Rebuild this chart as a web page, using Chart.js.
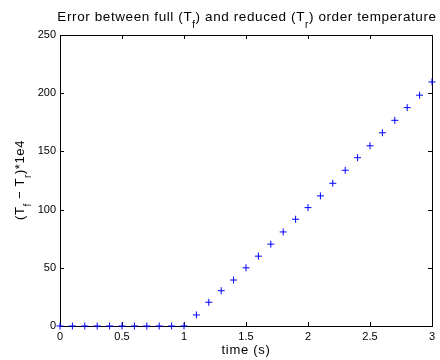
<!DOCTYPE html>
<html>
<head>
<meta charset="utf-8">
<script src="https://cdn.jsdelivr.net/npm/chart.js@4/dist/chart.umd.min.js"></script>
<style>
  html, body { margin: 0; padding: 0; background: #fff; }
  #wrap { width: 440px; height: 360px; position: relative; }
</style>
</head>
<body>
<div id="wrap"><canvas id="plot"></canvas></div>
<script>
// time samples (s) and scaled error values
var times = [0, 0.1, 0.2, 0.3, 0.4, 0.5, 0.6, 0.7, 0.8, 0.9, 1.0,
             1.1, 1.2, 1.3, 1.4, 1.5, 1.6, 1.7, 1.8, 1.9, 2.0,
             2.1, 2.2, 2.3, 2.4, 2.5, 2.6, 2.7, 2.8, 2.9, 3.0];
var errorVals = [0, 0, 0, 0, 0, 0, 0, 0, 0, 0, 0,
                 9.5, 20.4, 30.3, 39.5, 50, 60, 70.3, 80.8, 91.7, 101.7,
                 111.8, 122.6, 133.8, 144.6, 154.8, 166, 176.7, 187.6, 198.3, 209.7];
var xTicks = [0, 0.5, 1, 1.5, 2, 2.5, 3];
var yTicks = [0, 50, 100, 150, 200, 250];

var titleParts = [["Error between full (T", false], ["f", true], [") and reduced (T", false], ["r", true], [") order temperature", false]];
var yLabelParts = [["(T", false], ["f", true], [" \u2212 T", false], ["r", true], [")*1e4", false]];
var xLabel = "time (s)";

var FONT = "Liberation Sans, Arial, Helvetica, sans-serif";

// draws text with simple subscripts, centred on (0,0) of current transform
function drawParts(ctx, parts, size, subSize, subDrop, spacing) {
    ctx.letterSpacing = spacing + "px";
    var total = 0;
    parts.forEach(function(p) {
        ctx.font = (p[1] ? subSize : size) + "px " + FONT;
        total += ctx.measureText(p[0]).width;
    });
    var x = -total / 2;
    ctx.textAlign = "left";
    ctx.textBaseline = "alphabetic";
    parts.forEach(function(p) {
        ctx.font = (p[1] ? subSize : size) + "px " + FONT;
        ctx.fillText(p[0], x, p[1] ? subDrop : 0);
        x += ctx.measureText(p[0]).width;
    });
    ctx.letterSpacing = "0px";
}

var boxPlugin = {
    id: 'matlabBox',
    beforeDatasetsDraw: function(chart) {
        var ctx = chart.ctx, a = chart.chartArea;
        var xs = chart.scales.x, ys = chart.scales.y;
        ctx.save();
        ctx.strokeStyle = "#000";
        ctx.lineWidth = 1;
        ctx.beginPath();
        xTicks.forEach(function(v) {
            var px = Math.round(xs.getPixelForValue(v)) + 0.5;
            ctx.moveTo(px, a.bottom); ctx.lineTo(px, a.bottom - 4);
            ctx.moveTo(px, a.top); ctx.lineTo(px, a.top + 4);
        });
        yTicks.forEach(function(v) {
            var py = Math.round(ys.getPixelForValue(v)) + 0.5;
            ctx.moveTo(a.left, py); ctx.lineTo(a.left + 4, py);
            ctx.moveTo(a.right, py); ctx.lineTo(a.right - 4, py);
        });
        ctx.stroke();
        ctx.strokeRect(Math.round(a.left) + 0.5, Math.round(a.top) + 0.5,
                       Math.round(a.right - a.left), Math.round(a.bottom - a.top));
        ctx.restore();
    },
    afterDraw: function(chart) {
        var ctx = chart.ctx, a = chart.chartArea;
        ctx.save();
        ctx.fillStyle = "#000";
        // title
        ctx.translate((a.left + a.right) / 2 + 1, 20.5);
        drawParts(ctx, titleParts, 13.5, 10, 7, 0.6);
        ctx.restore();
        // y label
        ctx.save();
        ctx.fillStyle = "#000";
        ctx.translate(24, 180);
        ctx.rotate(-Math.PI / 2);
        drawParts(ctx, yLabelParts, 13, 10, 7, 0.6);
        ctx.restore();
        // x label
        ctx.save();
        ctx.fillStyle = "#000";
        ctx.translate((a.left + a.right) / 2, 354);
        drawParts(ctx, [[xLabel, false]], 13, 10, 0, 0.7);
        ctx.restore();
    }
};

var points = times.map(function(t, i) { return {x: t, y: errorVals[i]}; });

new Chart(document.getElementById("plot"), {
    type: 'scatter',
    data: {
        datasets: [{
            data: points,
            pointStyle: 'cross',
            pointRadius: 3.5,
            pointBorderWidth: 1,
            borderColor: '#0000ff',
            backgroundColor: '#0000ff',
            showLine: false,
            clip: false
        }]
    },
    options: {
        responsive: true,
        maintainAspectRatio: false,
        devicePixelRatio: 1,
        animation: false,
        events: [],
        layout: { padding: { top: 35, right: 8, left: 0, bottom: 0 } },
        plugins: { legend: { display: false }, title: { display: false }, tooltip: { enabled: false } },
        scales: {
            x: {
                type: 'linear', min: 0, max: 3,
                afterFit: function(s) { s.height = 34; },
                afterBuildTicks: function(s) { s.ticks = xTicks.map(function(v) { return {value: v}; }); },
                grid: { display: false, tickLength: 0 },
                border: { display: false },
                ticks: { color: '#000', padding: 4, maxRotation: 0, font: { family: FONT, size: 11 },
                         callback: function(v) { return String(v); } }
            },
            y: {
                type: 'linear', min: 0, max: 250,
                afterFit: function(s) { s.width = 60; },
                afterBuildTicks: function(s) { s.ticks = yTicks.map(function(v) { return {value: v}; }); },
                grid: { display: false, tickLength: 0 },
                border: { display: false },
                ticks: { color: '#000', padding: 4, font: { family: FONT, size: 11 },
                         callback: function(v) { return String(v); } }
            }
        }
    },
    plugins: [boxPlugin]
});
</script>
</body>
</html>
